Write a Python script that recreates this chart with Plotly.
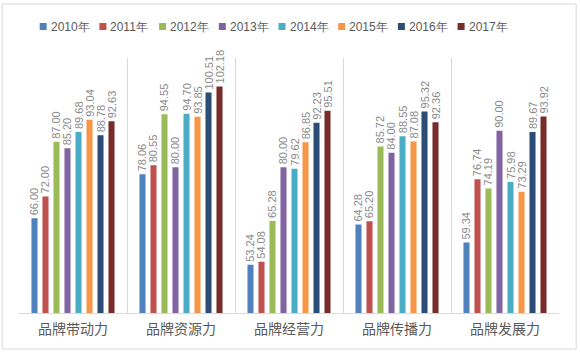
import plotly.graph_objects as go

categories = ["品牌带动力", "品牌资源力", "品牌经营力", "品牌传播力", "品牌发展力"]
years = ["2010年", "2011年", "2012年", "2013年", "2014年", "2015年", "2016年", "2017年"]
v2010 = [66.00, 78.06, 53.24, 64.28, 59.34]
v2011 = [72.00, 80.55, 54.08, 65.20, 76.74]
v2012 = [87.00, 94.55, 65.28, 85.72, 74.19]
v2013 = [85.20, 80.00, 80.00, 84.00, 90.00]
v2014 = [89.68, 94.70, 79.62, 88.55, 75.98]
v2015 = [93.04, 93.85, 86.85, 87.08, 73.29]
v2016 = [88.78, 100.51, 92.23, 95.32, 89.67]
v2017 = [92.63, 102.18, 95.51, 92.36, 93.92]
series = [v2010, v2011, v2012, v2013, v2014, v2015, v2016, v2017]
colors = ["#4F81BD", "#C0504D", "#9BBB59", "#8064A2", "#4BACC6", "#F79646", "#2C4D75", "#772C2A"]

W, H = 580, 352
L, R, T, B = 19.3, 20.7, 58, 39
PW, PH = W - L - R, H - T - B


def px_x(x):
    return (x - L) / PW


def px_y(y):
    return (H - B - y) / PH


fig = go.Figure()
for name, vals, c in zip(years, series, colors):
    fig.add_trace(go.Bar(
        x=categories, y=vals, name=name, marker_color=c, marker_line_width=0,
        text=[f"{v:.2f}" for v in vals], textposition="outside", textangle=-90,
        textfont=dict(family="Liberation Sans, Arial", size=11, color="#8a8a8a"),
        constraintext="none", cliponaxis=False, showlegend=False,
    ))

shapes = []
annotations = []
# outer chart border
shapes.append(dict(type="rect", xref="paper", yref="paper",
                   x0=px_x(2.5), x1=px_x(576.5), y0=px_y(4), y1=px_y(349),
                   line=dict(color="#d9d9d9", width=1), fillcolor="rgba(0,0,0,0)", layer="below"))
# manual legend
for i, (name, c) in enumerate(zip(years, colors)):
    x0 = 40 + 59.7 * i
    shapes.append(dict(type="rect", xref="paper", yref="paper",
                       x0=px_x(x0), x1=px_x(x0 + 7), y0=px_y(23), y1=px_y(30),
                       line=dict(width=0), fillcolor=c))
    annotations.append(dict(text=name, xref="paper", yref="paper", x=px_x(x0 + 9), y=px_y(26.5),
                            xanchor="left", yanchor="middle", showarrow=False,
                            font=dict(family="Liberation Sans, Arial", size=12, color="#595959")))

fig.update_layout(
    width=W, height=H,
    margin=dict(l=L, r=R, t=T, b=B, pad=0),
    paper_bgcolor="white", plot_bgcolor="white",
    barmode="group", bargap=0.185, bargroupgap=0.45,
    shapes=shapes, annotations=annotations,
    xaxis=dict(type="category", range=[-0.5, 4.5], showgrid=True, tickson="boundaries",
               gridcolor="#d9d9d9", gridwidth=1, showline=True, linecolor="#d9d9d9", linewidth=1,
               ticks="", ticklabelstandoff=3,
               tickfont=dict(family="Noto Sans CJK SC", size=14, color="#595959")),
    yaxis=dict(range=[40, 110], visible=False, showgrid=False, zeroline=False),
)

fig.write_html("out.html")
